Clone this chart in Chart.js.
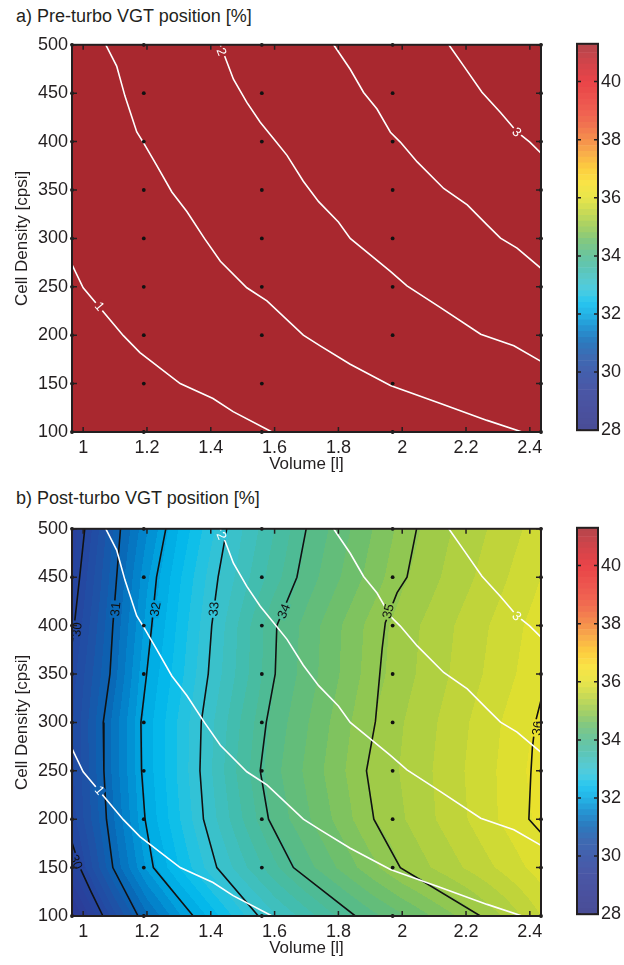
<!DOCTYPE html>
<html>
<head>
<meta charset="utf-8">
<script src="https://cdn.jsdelivr.net/npm/chart.js@4.4.1/dist/chart.umd.min.js"></script>
<style>
  body { margin: 0; background: #fff; }
  #page { position: relative; width: 624px; height: 965px; overflow: hidden; }
  .ttl { position: absolute; left: 16px; font: 18px/18px 'Liberation Sans', Arial, sans-serif; color: #231F20; white-space: nowrap; }
  canvas { position: absolute; }
</style>
</head>
<body>
<div id="page">
  <div class="ttl" style="top:7px">a) Pre-turbo VGT position [%]</div>
  <canvas id="preChart" width="549" height="445" style="left:0;top:30px"></canvas>
  <canvas id="preBar" width="54" height="414" style="left:570px;top:30px"></canvas>
  <div class="ttl" style="top:489px">b) Post-turbo VGT position [%]</div>
  <canvas id="postChart" width="549" height="445" style="left:0;top:514px"></canvas>
  <canvas id="postBar" width="54" height="414" style="left:570px;top:514px"></canvas>
</div>
<script>
// --- data -----------------------------------------------------------------

// measured operating grid (black dots)
const gridVolumes = [0.965, 1.19, 1.56, 1.97, 2.435];
const gridDensities = [100, 150, 200, 250, 300, 350, 400, 450, 500];

const xTicks = [1, 1.2, 1.4, 1.6, 1.8, 2, 2.2, 2.4];
const yTicks = [100, 150, 200, 250, 300, 350, 400, 450, 500];
const cbarTicks = [28, 30, 32, 34, 36, 38, 40];

// a) pre-turbo VGT position, saturated above the colour range everywhere
const preVolumes = [0.965, 1.19, 1.56, 1.97, 2.435];
const preDensities = [500, 450, 400, 350, 300, 250, 200, 150, 100];
const preVgt = [
  [41.3, 41.3, 41.3, 41.3, 41.3],
  [41.3, 41.3, 41.3, 41.3, 41.3],
  [41.3, 41.3, 41.3, 41.3, 41.3],
  [41.3, 41.3, 41.3, 41.3, 41.3],
  [41.3, 41.3, 41.3, 41.3, 41.3],
  [41.3, 41.3, 41.3, 41.3, 41.3],
  [41.3, 41.3, 41.3, 41.3, 41.3],
  [41.3, 41.3, 41.3, 41.3, 41.3],
  [41.3, 41.3, 41.3, 41.3, 41.3]
];

// b) post-turbo VGT position [%], rows top (500 cpsi) to bottom (100 cpsi)
const postVolumes = [0.965, 1.1, 1.2, 1.3, 1.4, 1.5, 1.6, 1.7, 1.8, 1.9, 2.0, 2.1, 2.2, 2.3, 2.435];
const postDensities = [500, 450, 400, 350, 300, 250, 200, 150, 100];
const postVgt = [
  [29.64, 30.85, 31.58, 32.21, 32.74, 33.20, 33.60, 34.00, 34.29, 34.58, 34.87, 35.10, 35.28, 35.46, 35.70],
  [29.80, 30.96, 31.76, 32.36, 32.88, 33.31, 33.72, 34.09, 34.38, 34.67, 34.96, 35.16, 35.35, 35.54, 35.80],
  [29.95, 31.06, 31.88, 32.45, 32.98, 33.48, 33.97, 34.27, 34.57, 34.86, 35.10, 35.28, 35.47, 35.65, 35.90],
  [30.10, 31.14, 32.01, 32.52, 33.04, 33.51, 33.99, 34.29, 34.59, 34.89, 35.12, 35.31, 35.50, 35.69, 35.95],
  [30.17, 31.31, 32.10, 32.63, 33.15, 33.64, 34.08, 34.38, 34.68, 34.98, 35.19, 35.38, 35.58, 35.78, 36.05],
  [30.15, 31.30, 32.09, 32.64, 33.18, 33.71, 34.14, 34.44, 34.74, 35.02, 35.22, 35.41, 35.61, 35.81, 36.10],
  [30.10, 31.22, 32.03, 32.58, 33.11, 33.60, 34.06, 34.36, 34.66, 34.97, 35.18, 35.39, 35.59, 35.80, 36.05],
  [29.80, 31.06, 31.84, 32.40, 32.90, 33.34, 33.75, 34.12, 34.42, 34.72, 35.01, 35.22, 35.42, 35.62, 35.90],
  [29.12, 30.35, 31.16, 31.76, 32.27, 32.76, 33.17, 33.50, 33.83, 34.12, 34.37, 34.63, 34.88, 35.17, 35.60]
];

// white iso-lines (same in both panels), [volume, cell density]
const white1 = [[0.965, 273], [1.0, 249], [1.126, 199.5], [1.178, 182], [1.304, 150], [1.407, 134.6], [1.47, 121], [1.592, 100]];
const white2 = [[1.071, 500], [1.105, 478], [1.131, 447], [1.168, 410], [1.188, 399.5], [1.23, 375.6], [1.278, 348], [1.325, 327.7],
  [1.38, 300], [1.43, 276.4], [1.513, 249], [1.576, 235.4], [1.69, 200], [1.743, 189], [1.837, 170], [1.963, 148], [2.12, 129.4], [2.266, 112], [2.376, 100]];
const white3 = [[1.43, 500], [1.471, 464.4], [1.513, 440.5], [1.555, 420], [1.597, 403], [1.639, 385.8], [1.69, 359], [1.738, 338],
  [1.8, 317], [1.837, 300], [1.9, 283], [1.963, 266], [2.015, 251], [2.12, 228.5], [2.246, 201], [2.35, 189], [2.435, 173]];
const white4 = [[1.785, 500], [1.837, 474.7], [1.879, 450.8], [1.921, 433.6], [1.963, 409.7], [1.994, 399.5], [2.047, 379], [2.13, 351.6],
  [2.204, 334.6], [2.266, 314], [2.308, 300.3], [2.36, 290], [2.435, 269]];
const white5 = [[2.146, 500], [2.193, 478], [2.25, 451], [2.308, 430], [2.36, 410], [2.4, 399.5], [2.435, 388]];
const whiteLines = [white1, white2, white3, white4, white5];
const whiteLabels = [
  { text: '1', v: 1.052, d: 230, angle: 50 },
  { text: '2', v: 1.435, d: 493, angle: 68 },
  { text: '3', v: 2.36, d: 410, angle: 45 }
];

// black iso-lines of post-turbo VGT position
const iso30a = [[1.005, 500], [0.989, 450], [0.972, 400], [0.965, 381]];
const iso30b = [[0.965, 176], [0.99, 150], [1.025, 125], [1.062, 100]];
const iso31 = [[1.117, 500], [1.105, 450], [1.093, 400], [1.084, 350], [1.063, 300], [1.065, 250], [1.073, 200], [1.093, 150], [1.172, 100]];
const iso32 = [[1.259, 500], [1.230, 450], [1.215, 400], [1.199, 350], [1.181, 300], [1.183, 250], [1.194, 200], [1.220, 150], [1.345, 100]];
const iso33 = [[1.450, 500], [1.423, 450], [1.403, 400], [1.392, 350], [1.370, 300], [1.366, 250], [1.377, 200], [1.419, 150], [1.549, 100]];
const iso34 = [[1.699, 500], [1.670, 450], [1.607, 400], [1.602, 350], [1.574, 300], [1.555, 250], [1.581, 200], [1.659, 150], [1.853, 100]];
const iso35 = [[2.045, 500], [2.015, 450], [1.984, 434], [1.947, 403], [1.937, 376], [1.916, 301], [1.888, 250], [1.911, 200], [1.994, 150], [2.245, 100]];
const iso36 = [[2.435, 323], [2.418, 301], [2.408, 274], [2.403, 246], [2.397, 200], [2.435, 186]];
const blackLines = [iso30a, iso30b, iso31, iso32, iso33, iso34, iso35, iso36];
const blackLabels = [
  { text: '30', v: 0.979, d: 396, angle: -84 },
  { text: '30', v: 0.979, d: 156, angle: 68 },
  { text: '31', v: 1.100, d: 417, angle: -85 },
  { text: '32', v: 1.225, d: 417, angle: -80 },
  { text: '33', v: 1.408, d: 417, angle: -84 },
  { text: '34', v: 1.628, d: 415, angle: -68 },
  { text: '35', v: 1.955, d: 415, angle: -76 },
  { text: '36', v: 2.422, d: 294, angle: -82 }
];

// colour scale
const cMin = 28, cMax = 41.3, cStep = 0.2;
const cmapStops = [
  [28.0, '#2B2F85'], [29.0, '#2D3893'], [29.6, '#2A3F9A'], [30.0, '#2546A0'], [30.5, '#1E52A6'],
  [31.0, '#0A63B2'], [31.5, '#0383CB'], [32.0, '#00A8E2'], [32.4, '#05BEEE'], [32.8, '#2EC3DC'],
  [33.2, '#3EC0C4'], [33.6, '#44BCA8'], [34.0, '#52BA8E'], [34.5, '#6EBF6C'], [35.0, '#98C94C'],
  [35.5, '#C0D43A'], [36.0, '#E5E22E'], [36.5, '#F8DE28'], [37.0, '#FDC620'], [37.5, '#F8A22C'],
  [38.0, '#F37C30'], [38.5, '#EF5C34'], [39.0, '#EC4435'], [40.0, '#E5252A'], [40.6, '#CB262D'],
  [41.3, '#A6282F']
];
const cbarWash = 0.14; // the printed colour bar looks a little paler than the map

// --- helpers ---------------------------------------------------------------
const ink = '#231F20';
const fontFam = "'Liberation Sans', Arial, sans-serif";

function hexRgb(h) {
  return [parseInt(h.slice(1, 3), 16), parseInt(h.slice(3, 5), 16), parseInt(h.slice(5, 7), 16)];
}
function cmapAt(z) {
  if (z <= cmapStops[0][0]) return hexRgb(cmapStops[0][1]);
  for (let i = 0; i < cmapStops.length - 1; i++) {
    const [a, ca] = cmapStops[i], [b, cb] = cmapStops[i + 1];
    if (z <= b) {
      const t = (z - a) / (b - a), p = hexRgb(ca), q = hexRgb(cb);
      return p.map((c, k) => Math.round(c + (q[k] - c) * t));
    }
  }
  return hexRgb(cmapStops[cmapStops.length - 1][1]);
}
const bands = [];
for (let i = 0; cMin + i * cStep < cMax - 1e-9; i++) {
  const lo = +(cMin + i * cStep).toFixed(3);
  const hi = Math.min(+(lo + cStep).toFixed(3), cMax);
  bands.push({ lo, hi, rgb: cmapAt((lo + hi) / 2) });
}
function bandRgb(z) {
  let i = Math.floor((z - cMin) / cStep + 1e-9);
  i = Math.max(0, Math.min(bands.length - 1, i));
  return bands[i].rgb;
}
const rgbStr = c => `rgb(${c[0]},${c[1]},${c[2]})`;
const washed = c => c.map(v => Math.round(v + (255 - v) * cbarWash));

function seg(arr, val) {
  for (let i = 0; i < arr.length - 1; i++) {
    const a = arr[i], b = arr[i + 1];
    if ((val - a) * (val - b) <= 0) return [i, (val - a) / (b - a)];
  }
  return Math.abs(val - arr[0]) < Math.abs(val - arr[arr.length - 1]) ? [0, 0] : [arr.length - 2, 1];
}
function fieldAt(f, v, d) {
  const [i, tx] = seg(f.xs, v), [j, ty] = seg(f.ys, d);
  const z00 = f.zs[j][i], z01 = f.zs[j][i + 1], z10 = f.zs[j + 1][i], z11 = f.zs[j + 1][i + 1];
  return (z00 * (1 - tx) + z01 * tx) * (1 - ty) + (z10 * (1 - tx) + z11 * tx) * ty;
}

// filled contour drawn under the datasets, through the chart's scales
function fieldPlugin(f) {
  let cache = null;
  return {
    id: 'field',
    beforeDatasetsDraw(chart) {
      const { ctx, chartArea: a, scales: { x, y } } = chart;
      const L = Math.floor(a.left), T = Math.floor(a.top);
      const W = Math.ceil(a.right) - L, H = Math.ceil(a.bottom) - T;
      if (!cache || cache.width !== W || cache.height !== H) {
        cache = document.createElement('canvas');
        cache.width = W; cache.height = H;
        const octx = cache.getContext('2d');
        const img = octx.createImageData(W, H);
        for (let j = 0; j < H; j++) {
          const d = y.getValueForPixel(T + j + 0.5);
          for (let i = 0; i < W; i++) {
            const c = bandRgb(fieldAt(f, x.getValueForPixel(L + i + 0.5), d));
            const k = (j * W + i) * 4;
            img.data[k] = c[0]; img.data[k + 1] = c[1]; img.data[k + 2] = c[2]; img.data[k + 3] = 255;
          }
        }
        octx.putImageData(img, 0, 0);
      }
      ctx.save();
      ctx.beginPath();
      ctx.rect(a.left, a.top, a.right - a.left, a.bottom - a.top);
      ctx.clip();
      ctx.drawImage(cache, L, T);
      ctx.restore();
    }
  };
}

// inline contour labels with a gap cut into the line
function labelPlugin(items, color, f) {
  return {
    id: 'clabels',
    afterDatasetsDraw(chart) {
      const { ctx, chartArea: a, scales: { x, y } } = chart;
      ctx.save();
      ctx.beginPath();
      ctx.rect(a.left, a.top, a.right - a.left, a.bottom - a.top);
      ctx.clip();
      ctx.font = '13px ' + fontFam;
      ctx.textAlign = 'center';
      ctx.textBaseline = 'middle';
      items.forEach(it => {
        const px = x.getPixelForValue(it.v), py = y.getPixelForValue(it.d);
        const w = ctx.measureText(it.text).width + 3;
        ctx.save();
        ctx.translate(px, py);
        ctx.rotate(it.angle * Math.PI / 180);
        ctx.fillStyle = rgbStr(bandRgb(fieldAt(f, it.v, it.d)));
        ctx.fillRect(-w / 2, -5, w, 10);
        ctx.fillStyle = color;
        ctx.fillText(it.text, 0, 1);
        ctx.restore();
      });
      ctx.restore();
    }
  };
}

// box and inward ticks on every side
function framePlugin(withX, tickLen) {
  return {
    id: 'frame',
    afterDraw(chart) {
      const { ctx, chartArea: a, scales } = chart;
      ctx.save();
      ctx.strokeStyle = ink;
      ctx.lineWidth = 1.5;
      ctx.beginPath();
      if (withX) {
        scales.x.ticks.forEach(t => {
          const px = scales.x.getPixelForValue(t.value);
          ctx.moveTo(px, a.bottom); ctx.lineTo(px, a.bottom - tickLen);
          ctx.moveTo(px, a.top); ctx.lineTo(px, a.top + tickLen);
        });
      }
      scales.y.ticks.forEach(t => {
        const py = scales.y.getPixelForValue(t.value);
        ctx.moveTo(a.left, py); ctx.lineTo(a.left + tickLen, py);
        ctx.moveTo(a.right, py); ctx.lineTo(a.right - tickLen, py);
      });
      ctx.stroke();
      ctx.lineWidth = 2;
      ctx.strokeRect(a.left, a.top, a.right - a.left, a.bottom - a.top);
      ctx.restore();
    }
  };
}

const toXY = line => line.map(p => ({ x: p[0], y: p[1] }));
const gridPoints = [];
gridVolumes.forEach(v => gridDensities.forEach(d => gridPoints.push({ x: v, y: d })));

function panelChart(id, field, withBlack) {
  const lineDs = (line, color) => ({
    data: toXY(line), showLine: true, borderColor: color, borderWidth: 1.6,
    pointRadius: 0, fill: false, tension: 0
  });
  const datasets = [
    { data: gridPoints, pointRadius: 1.9, pointBackgroundColor: '#111', pointBorderWidth: 0, showLine: false, clip: false },
    ...whiteLines.map(l => lineDs(l, '#ffffff')),
    ...(withBlack ? blackLines.map(l => lineDs(l, '#111111')) : [])
  ];
  const plugins = [fieldPlugin(field), labelPlugin(whiteLabels, '#ffffff', field)];
  if (withBlack) plugins.push(labelPlugin(blackLabels, '#111111', field));
  plugins.push(framePlugin(true, 5));

  return new Chart(document.getElementById(id), {
    type: 'scatter',
    data: { datasets },
    options: {
      responsive: false,
      animation: false,
      events: [],
      layout: { padding: { left: 0, right: 8, top: 12, bottom: 0 } },
      plugins: { legend: { display: false }, tooltip: { enabled: false } },
      scales: {
        x: {
          type: 'linear', min: 0.965, max: 2.435,
          afterBuildTicks: s => { s.ticks = xTicks.map(v => ({ value: v })); },
          grid: { display: false, drawTicks: false },
          border: { display: false },
          ticks: { color: ink, font: { family: fontFam, size: 18 }, padding: 5, maxRotation: 0, autoSkip: false, callback: v => String(v) },
          title: { display: true, text: 'Volume [l]', color: ink, font: { family: fontFam, size: 17 }, padding: { top: 0, bottom: 0 } },
          afterFit: s => { s.height = 43; }
        },
        y: {
          type: 'linear', min: 100, max: 500,
          afterBuildTicks: s => { s.ticks = yTicks.map(v => ({ value: v })); },
          grid: { display: false, drawTicks: false },
          border: { display: false },
          ticks: { color: ink, font: { family: fontFam, size: 18 }, padding: 4, autoSkip: false },
          title: { display: true, text: 'Cell Density [cpsi]', color: ink, font: { family: fontFam, size: 17 }, padding: { top: 12, bottom: 0 } },
          afterFit: s => { s.width = 72; }
        }
      }
    },
    plugins
  });
}

function colorbarChart(id) {
  return new Chart(document.getElementById(id), {
    type: 'bar',
    data: {
      labels: [''],
      datasets: bands.map(b => ({
        data: [[b.lo, b.hi]], backgroundColor: rgbStr(washed(b.rgb)), borderWidth: 0,
        barPercentage: 1, categoryPercentage: 1, grouped: false
      }))
    },
    options: {
      responsive: false,
      animation: false,
      events: [],
      layout: { padding: { left: 7, right: 0, top: 12, bottom: 12 } },
      plugins: { legend: { display: false }, tooltip: { enabled: false } },
      scales: {
        x: { display: false },
        y: {
          position: 'right', min: cMin, max: cMax,
          afterBuildTicks: s => { s.ticks = cbarTicks.map(v => ({ value: v })); },
          grid: { display: false, drawTicks: false },
          border: { display: false },
          ticks: { color: ink, font: { family: fontFam, size: 18 }, padding: 3 },
          afterFit: s => { s.width = 26; }
        }
      }
    },
    plugins: [framePlugin(false, 4)]
  });
}

panelChart('preChart', { xs: preVolumes, ys: preDensities, zs: preVgt }, false);
colorbarChart('preBar');
panelChart('postChart', { xs: postVolumes, ys: postDensities, zs: postVgt }, true);
colorbarChart('postBar');
</script>
</body>
</html>
